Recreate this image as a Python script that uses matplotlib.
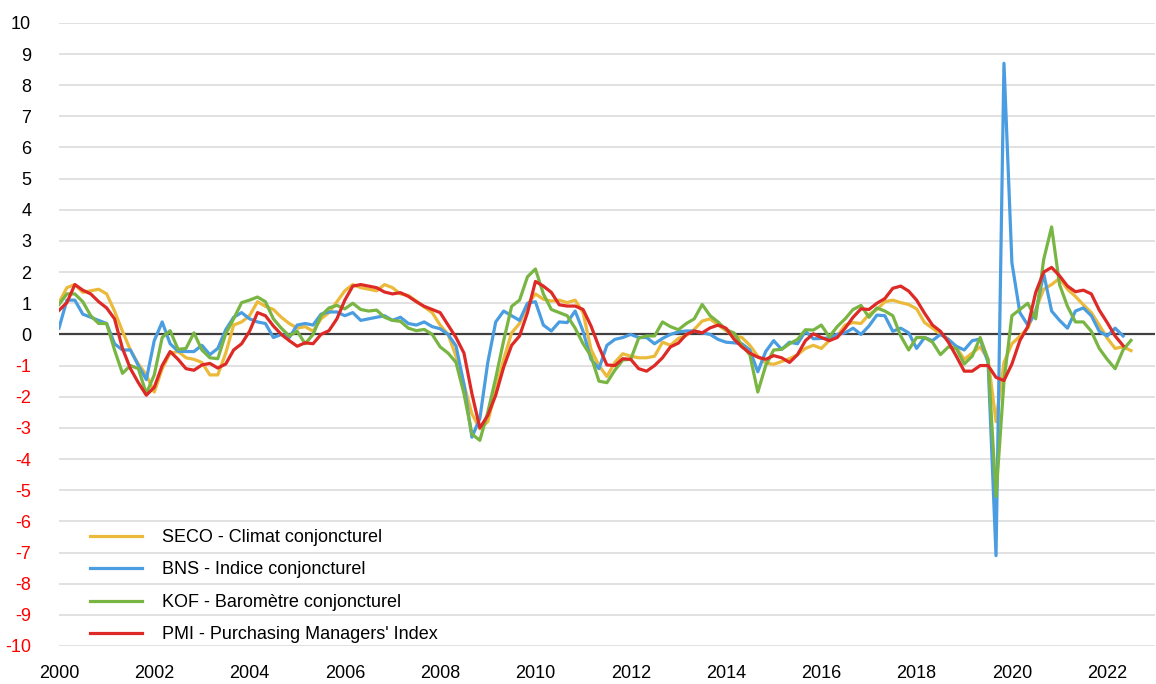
import numpy as np
import matplotlib
matplotlib.use('Agg')
import matplotlib.pyplot as plt

plt.rcParams['font.family'] = ['Liberation Sans', 'DejaVu Sans']
plt.rcParams['axes.unicode_minus'] = False

# readings every 2 months, starting Jan 2000 on the chart axis
seco = [1.02, 1.5, 1.6, 1.35, 1.4, 1.45, 1.3, 0.75, 0.1, -0.5,
        -0.95, -1.3, -1.85, -1.1, -0.6, -0.55, -0.75, -0.8, -0.9, -1.3,
        -1.3, -0.6, 0.3, 0.4, 0.6, 1.05, 0.9, 0.8, 0.55, 0.35,
        0.2, 0.25, 0.1, 0.5, 0.7, 1.05, 1.4, 1.6, 1.5, 1.45,
        1.4, 1.6, 1.5, 1.3, 1.25, 1.07, 0.88, 0.7, 0.3, 0.0,
        -0.7, -1.6, -2.55, -3.03, -2.8, -1.8, -0.8, 0.05, 0.35, 0.96,
        1.3, 1.13, 1.07, 1.1, 1.02, 1.1, 0.7, -0.48, -1.0, -1.35,
        -0.9, -0.62, -0.7, -0.75, -0.75, -0.7, -0.25, -0.35, -0.13, -0.03,
        0.16, 0.43, 0.5, 0.3, 0.12, -0.05, -0.1, -0.35, -0.7, -0.92,
        -0.96, -0.87, -0.78, -0.65, -0.45, -0.35, -0.45, -0.2, -0.05, 0.3,
        0.38, 0.35, 0.64, 0.8, 1.05, 1.1, 1.02, 0.96, 0.82, 0.38,
        0.2, 0.0, -0.15, -0.42, -0.8, -0.6, -0.4, -0.8, -2.8, -0.9,
        -0.3, -0.06, 0.2, 0.8, 1.45, 1.6, 1.8, 1.45, 1.22, 0.95,
        0.7, 0.3, -0.12, -0.45, -0.4, -0.52]

bns = [0.2, 1.1, 1.1, 0.65, 0.55, 0.45, 0.35, -0.3, -0.5, -0.5,
       -1.0, -1.45, -0.2, 0.4, -0.3, -0.54, -0.55, -0.55, -0.35, -0.65,
       -0.45, 0.15, 0.55, 0.7, 0.5, 0.4, 0.35, -0.1, 0.0, -0.1,
       0.3, 0.35, 0.3, 0.65, 0.72, 0.72, 0.6, 0.7, 0.45, 0.5,
       0.55, 0.6, 0.45, 0.55, 0.35, 0.3, 0.4, 0.25, 0.18, 0.0,
       -0.37, -1.6, -3.3, -2.7, -0.9, 0.4, 0.75, 0.6, 0.45, 1.0,
       1.05, 0.3, 0.11, 0.4, 0.38, 0.75, 0.1, -0.8, -1.1, -0.35,
       -0.16, -0.1, 0.0, -0.1, -0.1, -0.3, -0.13, 0.0, 0.08, 0.11,
       0.11, 0.05, 0.0, -0.16, -0.25, -0.27, -0.3, -0.5, -1.2, -0.55,
       -0.2, -0.48, -0.25, -0.3, 0.1, -0.14, -0.13, -0.11, 0.0, 0.05,
       0.2, 0.0, 0.27, 0.62, 0.6, 0.1, 0.2, 0.05, -0.45, -0.1,
       -0.2, 0.0, -0.16, -0.38, -0.5, -0.2, -0.15, -0.9, -7.1, 8.7,
       2.3, 0.7, 0.3, 0.7, 1.95, 0.75, 0.45, 0.2, 0.75, 0.85,
       0.6, 0.1, -0.05, 0.2, -0.05]

kof = [0.96, 1.3, 1.3, 1.05, 0.6, 0.35, 0.35, -0.5, -1.25, -1.0,
       -1.1, -1.9, -1.3, -0.1, 0.12, -0.48, -0.45, 0.05, -0.5, -0.75,
       -0.78, 0.02, 0.5, 1.02, 1.1, 1.2, 1.05, 0.5, 0.2, -0.05,
       0.1, -0.3, 0.0, 0.6, 0.85, 0.93, 0.82, 1.0, 0.8, 0.75,
       0.78, 0.55, 0.45, 0.42, 0.2, 0.12, 0.16, 0.0, -0.4, -0.6,
       -0.9, -1.9, -3.2, -3.4, -2.5, -1.4, -0.2, 0.9, 1.1, 1.85,
       2.1, 1.3, 0.8, 0.7, 0.6, 0.2, -0.3, -0.7, -1.5, -1.55,
       -1.15, -0.82, -0.8, -0.12, -0.05, -0.05, 0.4, 0.25, 0.15, 0.35,
       0.5, 0.96, 0.6, 0.4, 0.15, 0.05, -0.35, -0.65, -1.85, -1.0,
       -0.5, -0.48, -0.3, -0.16, 0.15, 0.14, 0.3, -0.08, 0.25, 0.5,
       0.8, 0.93, 0.55, 0.85, 0.75, 0.6, -0.05, -0.5, -0.1, -0.1,
       -0.25, -0.65, -0.4, -0.45, -0.95, -0.7, -0.1, -0.8, -5.2, -1.5,
       0.6, 0.8, 1.0, 0.5, 2.4, 3.45, 1.6, 0.9, 0.4, 0.4,
       0.1, -0.45, -0.8, -1.1, -0.5, -0.19]

pmi = [0.77, 1.02, 1.6, 1.42, 1.3, 1.05, 0.85, 0.5, -0.45, -1.1,
       -1.55, -1.95, -1.7, -1.0, -0.55, -0.8, -1.1, -1.15, -0.98, -0.93,
       -1.08, -0.95, -0.5, -0.3, 0.1, 0.7, 0.6, 0.27, 0.0, -0.2,
       -0.38, -0.27, -0.3, 0.0, 0.12, 0.5, 1.1, 1.55, 1.6, 1.55,
       1.5, 1.36, 1.3, 1.34, 1.22, 1.05, 0.9, 0.8, 0.7, 0.3,
       -0.1, -0.6, -1.9, -3.0, -2.6, -1.95, -1.05, -0.35, -0.05, 0.7,
       1.7, 1.55, 1.35, 0.95, 0.91, 0.91, 0.8, 0.27, -0.4, -0.98,
       -1.0, -0.78, -0.8, -1.1, -1.18, -1.0, -0.75, -0.4, -0.28, 0.0,
       0.11, 0.05, 0.21, 0.3, 0.2, -0.15, -0.4, -0.6, -0.73, -0.8,
       -0.68, -0.75, -0.9, -0.65, -0.2, 0.02, -0.1, -0.2, -0.1, 0.2,
       0.55, 0.82, 0.8, 1.0, 1.15, 1.48, 1.55, 1.39, 1.1, 0.68,
       0.3, 0.1, -0.25, -0.7, -1.18, -1.18, -1.0, -1.0, -1.38, -1.48,
       -0.95, -0.2, 0.25, 1.35, 2.0, 2.15, 1.88, 1.55, 1.37, 1.42,
       1.3, 0.78, 0.38, -0.05, -0.36]

labels = ['SECO - Climat conjoncturel', 'BNS - Indice conjoncturel',
          'KOF - Baromètre conjoncturel', "PMI - Purchasing Managers' Index"]
colors = ['#EBBA3A', '#4A9DE0', '#79B543', '#DE2A26']
years = list(range(2000, 2023, 2))

fig = plt.figure(figsize=(11.56, 6.84), dpi=100)
ax = fig.add_axes([0.051, 0.0556, 0.948, 0.911])

for serie, lab, col in zip([seco, bns, kof, pmi], labels, colors):
    x = 2000 + np.arange(len(serie)) / 6
    ax.plot(x, serie, color=col, lw=2.3, label=lab, zorder=3)

ax.axhline(0, color='#404040', lw=1.6, zorder=2)
ax.set_xlim(2000, 2023)
ax.set_ylim(-10, 10)
ax.set_yticks(range(-10, 11))
ax.set_xticks(years)
ax.set_xticklabels([str(y) for y in years])
ax.grid(axis='y', color='#D9D9D9', lw=1.1, zorder=1)
ax.tick_params(length=0, labelsize=13)
ax.tick_params(axis='y', pad=20)
ax.tick_params(axis='x', pad=14)
for t in ax.get_yticklabels():
    if t.get_text().startswith('-'):
        t.set_color('#FF0000')
for s in ax.spines.values():
    s.set_visible(False)

leg = ax.legend(loc='lower left', bbox_to_anchor=(0.028, 0.004), frameon=False,
                fontsize=13, handlelength=2.9, handletextpad=1.1,
                labelspacing=0.86, borderpad=0, borderaxespad=0)

fig.savefig('out.png', dpi=100)
